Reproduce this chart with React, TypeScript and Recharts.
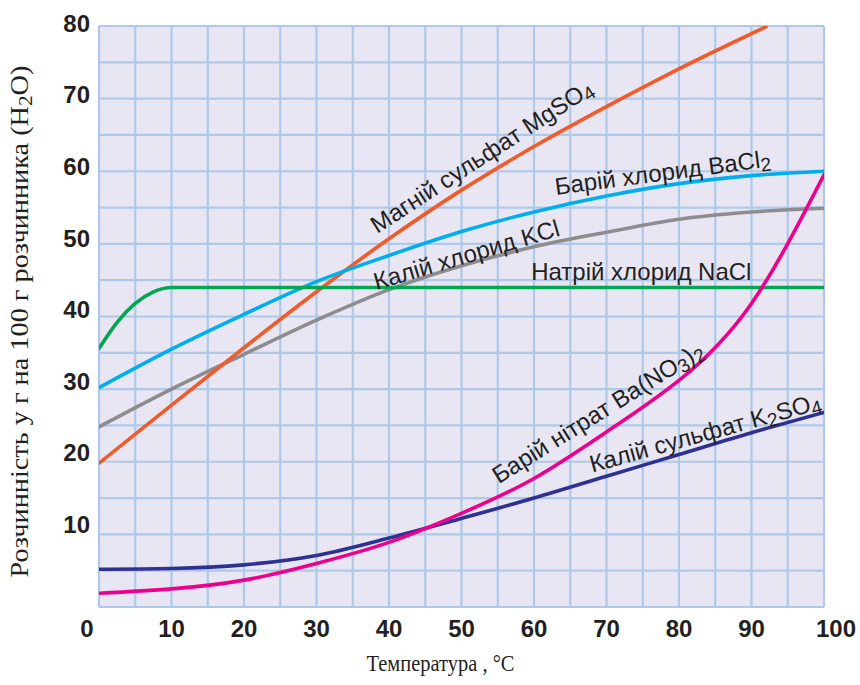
import React from 'react';
import { ComposedChart, Line, Scatter, XAxis, YAxis, CartesianGrid } from 'recharts';

// ---- data ----
const T = [0, 10, 20, 30, 40, 50, 60, 70, 80, 90, 100];
const kclValues = [24.8, 30.0, 34.8, 39.5, 43.7, 47.0, 49.6, 51.6, 53.4, 54.4, 54.9];
const bacl2Values = [30.2, 35.5, 40.3, 44.8, 48.4, 51.7, 54.4, 56.6, 58.3, 59.4, 60.0];
const k2so4Values = [5.2, 5.3, 5.8, 7.1, 9.5, 12.2, 15.0, 18.0, 21.0, 24.0, 26.8];

const mgso4T = [0, 10, 20, 30, 40, 50, 60, 70, 80, 92];
const mgso4Values = [19.8, 27.8, 35.7, 43.4, 50.7, 57.4, 63.4, 68.9, 74.1, 79.9];

const naclT = [0, 2.5, 5, 7.5, 10, 20, 40, 60, 80, 100];
const naclValues = [35.6, 39.2, 41.8, 43.4, 44.0, 44.0, 44.0, 44.0, 44.0, 44.0];

const banoValues = [1.9, 2.5, 3.7, 6.0, 8.9, 12.9, 17.7, 24.1, 31.2, 41.8, 59.5];

const xTicks = [0, 5, 10, 15, 20, 25, 30, 35, 40, 45, 50, 55, 60, 65, 70, 75, 80, 85, 90, 95, 100];
const yTicks = [0, 5, 10, 15, 20, 25, 30, 35, 40, 45, 50, 55, 60, 65, 70, 75, 80];

// curve labels ("_" marks a subscript digit)
const labelTexts = [
  'Магній сульфат MgSO_4',
  'Барій хлорид BaCl_2',
  'Калій хлорид KCl',
  'Натрій хлорид NaCl',
  'Барій нітрат Ba(NO_3)_2',
  'Калій сульфат K_2SO_4',
];
const labelT = [53.4, 77.9, 51.0, 74.8, 69.4, 83.9];
const labelV = [61.1, 58.7, 47.4, 45.0, 25.8, 22.9];
const labelAngle = [-33, -7.5, -16.5, 0, -32, -15.5];

const rows = (ts: number[], vs: number[]) => ts.map((t, i) => ({ t, v: vs[i] }));
const labelRows = labelTexts.map((text, i) => ({ t: labelT[i], v: labelV[i], text, angle: labelAngle[i] }));

const INK = '#231f20';
const SANS = "'Liberation Sans', Arial, Helvetica, sans-serif";
const SERIF = "'Liberation Serif', 'DejaVu Serif', 'Times New Roman', serif";

const renderParts = (text: string) => {
  const out: React.ReactNode[] = [];
  let buf = '';
  let shifted = false;
  let key = 0;
  for (let i = 0; i < text.length; i++) {
    const ch = text[i];
    if (ch === '_' && i + 1 < text.length) {
      if (buf) {
        out.push(<tspan key={key++} dy={shifted ? -4 : 0}>{buf}</tspan>);
        shifted = false;
        buf = '';
      }
      out.push(
        <tspan key={key++} dy={shifted ? 0 : 4} fontSize="0.8em">{text[i + 1]}</tspan>
      );
      shifted = true;
      i++;
    } else {
      buf += ch;
    }
  }
  if (buf) out.push(<tspan key={key++} dy={shifted ? -4 : 0}>{buf}</tspan>);
  return out;
};

const CurveLabel = (props: any) => {
  const { cx, cy, payload } = props;
  if (cx == null || cy == null || !payload) return <g />;
  return (
    <text
      x={cx}
      y={cy}
      textAnchor="middle"
      fontFamily={SANS}
      fontSize={24}
      fill={INK}
      transform={`rotate(${payload.angle} ${cx} ${cy})`}
    >
      {renderParts(payload.text)}
    </text>
  );
};

const XTick = (props: any) => {
  const { x, y, payload } = props;
  const v = payload.value;
  if (v % 10 !== 0) return <g />;
  const dx = v === 0 ? -12 : v === 100 ? 12 : 0;
  return (
    <text x={x + dx} y={y + 30} textAnchor="middle" fontFamily={SANS} fontWeight="bold" fontSize={24} fill={INK}>
      {v}
    </text>
  );
};

const YTick = (props: any) => {
  const { x, y, payload } = props;
  const v = payload.value;
  if (v % 10 !== 0 || v === 0) return <g />;
  const off = -3 - (80 - v) * 0.1;
  return (
    <text x={x - 9} y={y + off} dy="0.36em" textAnchor="end" fontFamily={SANS} fontWeight="bold" fontSize={24} fill={INK}>
      {v}
    </text>
  );
};

const YTitle = (props: any) => {
  const vb = props.viewBox || { x: 39, y: 26, width: 60, height: 581 };
  const cx = vb.x - 11;
  const cy = vb.y + vb.height / 2 + 5;
  return (
    <text
      x={cx}
      y={cy}
      textAnchor="middle"
      fontFamily={SERIF}
      fontSize={25}
      fill={INK}
      textLength={512}
      lengthAdjust="spacingAndGlyphs"
      transform={`rotate(-90 ${cx} ${cy})`}
    >
      <tspan>Розчинність у г на 100 г розчинника (H</tspan>
      <tspan dy={4} fontSize="0.75em">2</tspan>
      <tspan dy={-4}>O)</tspan>
    </text>
  );
};

const XTitle = (props: any) => {
  const vb = props.viewBox || { x: 99, y: 607, width: 725, height: 50 };
  const cx = vb.x + vb.width / 2 - 21;
  const cy = vb.y + 64;
  return (
    <text x={cx} y={cy} textAnchor="middle" fontFamily={SERIF} fontSize={23} fill={INK} textLength={148} lengthAdjust="spacingAndGlyphs">
      Температура , °C
    </text>
  );
};

const series = [
  { name: 'K2SO4', data: rows(T, k2so4Values), color: '#2e3192', curve: 'monotone' },
  { name: 'KCl', data: rows(T, kclValues), color: '#8d8d8f', curve: 'monotone' },
  { name: 'MgSO4', data: rows(mgso4T, mgso4Values), color: '#f15a29', curve: 'monotone' },
  { name: 'BaCl2', data: rows(T, bacl2Values), color: '#00aeef', curve: 'monotone' },
  { name: 'NaCl', data: rows(naclT, naclValues), color: '#00a651', curve: 'monotone' },
  { name: 'Ba(NO3)2', data: rows(T, banoValues), color: '#ec008c', curve: 'natural' },
];

export default function App() {
  return (
    <div style={{ position: 'absolute', left: 0, top: 0, width: 860, height: 685, background: '#fff' }}>
      <ComposedChart width={860} height={685} margin={{ top: 26, right: 36, bottom: 28, left: 39 }}>
        <CartesianGrid fill="#e9e6f3" stroke="#aec8ea" strokeWidth={2.2} horizontal vertical />
        <XAxis
          type="number"
          dataKey="t"
          domain={[0, 100]}
          ticks={xTicks}
          interval={0}
          height={50}
          tickLine={false}
          axisLine={false}
          tickSize={0}
          tickMargin={0}
          tick={<XTick />}
          allowDataOverflow
          label={<XTitle />}
        />
        <YAxis
          type="number"
          dataKey="v"
          domain={[0, 80]}
          ticks={yTicks}
          interval={0}
          width={60}
          tickLine={false}
          axisLine={false}
          tickSize={0}
          tickMargin={0}
          tick={<YTick />}
          allowDataOverflow
          label={<YTitle />}
        />
        {series.map((s) => (
          <Line
            key={s.name}
            data={s.data}
            dataKey="v"
            type={s.curve as any}
            stroke={s.color}
            strokeWidth={3.6}
            dot={false}
            activeDot={false}
            isAnimationActive={false}
            strokeLinecap="round"
          />
        ))}
        <Scatter data={labelRows} dataKey="v" isAnimationActive={false} shape={(p: any) => <CurveLabel {...p} />} />
      </ComposedChart>
    </div>
  );
}
